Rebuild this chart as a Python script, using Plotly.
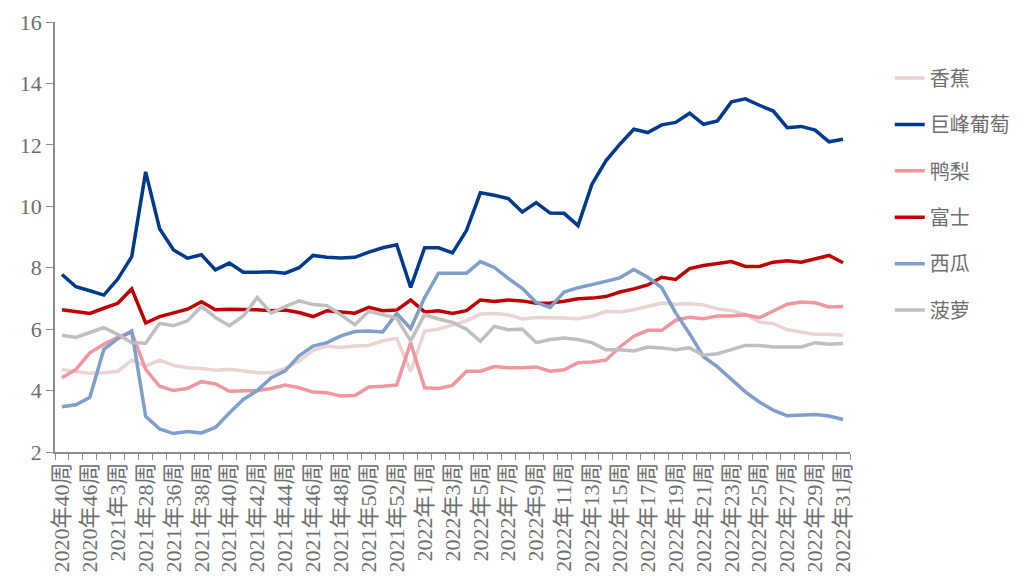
import plotly.graph_objects as go

weeks = (["2020年40周", "2020年43周", "2020年46周", "2020年49周", "2021年3周",
          "2021年15周", "2021年28周", "2021年32周"]
         + [f"2021年{w}周" for w in range(36, 53)]
         + ["2021年53周"]
         + [f"2022年{w}周" for w in range(1, 32)])

banana = [4.69, 4.61, 4.56, 4.58, 4.63, 4.99, 4.80, 4.99, 4.82, 4.74, 4.72, 4.66, 4.69, 4.63,
          4.58, 4.58, 4.72, 4.96, 5.31, 5.45, 5.40, 5.45, 5.47, 5.62, 5.70, 4.63, 5.94, 6.00,
          6.14, 6.27, 6.49, 6.51, 6.47, 6.33, 6.38, 6.38, 6.36, 6.34, 6.42, 6.58, 6.56, 6.63,
          6.75, 6.85, 6.81, 6.83, 6.79, 6.66, 6.61, 6.47, 6.23, 6.18, 5.98, 5.91, 5.83, 5.83, 5.80]
grape = [7.78, 7.38, 7.25, 7.11, 7.63, 8.36, 11.12, 9.27, 8.58, 8.31, 8.42, 7.93, 8.15, 7.85,
         7.85, 7.87, 7.82, 8.00, 8.40, 8.34, 8.32, 8.34, 8.51, 8.65, 8.75, 7.36, 8.65, 8.65,
         8.48, 9.21, 10.44, 10.36, 10.25, 9.81, 10.12, 9.78, 9.77, 9.37, 10.72, 11.48, 12.02,
         12.51, 12.40, 12.65, 12.73, 13.03, 12.67, 12.78, 13.40, 13.50, 13.29, 13.10, 12.56,
         12.60, 12.48, 12.10, 12.18]
pear = [4.42, 4.69, 5.23, 5.51, 5.73, 5.89, 4.69, 4.14, 4.00, 4.07, 4.29, 4.22, 3.98, 3.98,
        4.00, 4.07, 4.18, 4.09, 3.95, 3.93, 3.82, 3.84, 4.12, 4.14, 4.18, 5.56, 4.09, 4.07,
        4.17, 4.63, 4.63, 4.78, 4.74, 4.74, 4.77, 4.63, 4.68, 4.91, 4.93, 4.99, 5.42, 5.77,
        5.96, 5.96, 6.29, 6.39, 6.34, 6.43, 6.43, 6.47, 6.37, 6.59, 6.81, 6.88, 6.86, 6.72, 6.74]
fuji = [6.63, 6.56, 6.51, 6.68, 6.84, 7.31, 6.20, 6.41, 6.54, 6.65, 6.89, 6.63, 6.65, 6.65,
        6.63, 6.60, 6.62, 6.54, 6.41, 6.60, 6.56, 6.52, 6.71, 6.60, 6.62, 6.95, 6.56, 6.60,
        6.51, 6.60, 6.95, 6.90, 6.95, 6.92, 6.84, 6.85, 6.91, 6.99, 7.01, 7.06, 7.21, 7.31,
        7.44, 7.69, 7.62, 7.97, 8.07, 8.13, 8.20, 8.04, 8.04, 8.18, 8.23, 8.18, 8.29, 8.40, 8.16]
watermelon = [3.47, 3.54, 3.78, 5.34, 5.69, 5.94, 3.16, 2.75, 2.60, 2.67, 2.62, 2.80, 3.27, 3.71,
              4.00, 4.42, 4.64, 5.13, 5.45, 5.56, 5.78, 5.92, 5.94, 5.91, 6.51, 6.02, 7.03, 7.82,
              7.82, 7.82, 8.20, 8.01, 7.65, 7.33, 6.87, 6.71, 7.21, 7.35, 7.45, 7.55, 7.67, 7.94,
              7.69, 7.35, 6.53, 5.85, 5.10, 4.77, 4.37, 3.96, 3.63, 3.36, 3.18, 3.20, 3.22, 3.17, 3.06]
pineapple = [5.80, 5.73, 5.89, 6.05, 5.83, 5.56, 5.54, 6.19, 6.11, 6.27, 6.74, 6.38, 6.11, 6.43,
             7.03, 6.52, 6.73, 6.92, 6.80, 6.76, 6.47, 6.14, 6.58, 6.47, 6.36, 5.62, 6.47, 6.33,
             6.22, 6.00, 5.60, 6.09, 5.98, 6.00, 5.56, 5.66, 5.71, 5.66, 5.56, 5.33, 5.33, 5.29,
             5.42, 5.39, 5.33, 5.39, 5.15, 5.20, 5.33, 5.47, 5.47, 5.42, 5.42, 5.42, 5.56, 5.51, 5.53]

series = [
    ("香蕉", banana, "#EBD3D3"),
    ("巨峰葡萄", grape, "#003A8C"),
    ("鸭梨", pear, "#F1959E"),
    ("富士", fuji, "#C00000"),
    ("西瓜", watermelon, "#7F9EC9"),
    ("菠萝", pineapple, "#BFBFBF"),
]

xpos = list(range(len(weeks)))

fig = go.Figure()
for name, vals, color in series:
    fig.add_trace(go.Scatter(
        x=xpos, y=vals, name=name, mode="lines", legendgroup=name,
        line=dict(color=color, width=3.5),
    ))

font_main = "Liberation Serif, Noto Sans CJK SC, serif"
axis_color = "#8C8C8C"
text_color = "#6E6E6E"

fig.update_layout(
    width=1019, height=578,
    margin=dict(l=47, r=177, t=14, b=134),
    paper_bgcolor="white", plot_bgcolor="white",
    font=dict(family=font_main, color=text_color),
    showlegend=True,
    legend=dict(
        x=1.05, y=0.915, xanchor="left", yanchor="top",
        font=dict(size=20, color=text_color, family=font_main),
        tracegroupgap=17.4, traceorder="grouped",
        bgcolor="rgba(0,0,0,0)", borderwidth=0,
    ),
    xaxis=dict(
        range=[-0.5, len(weeks) - 0.5],
        tickmode="array", tickvals=xpos[::2], ticktext=weeks[::2],
        tickangle=-90, ticks="", automargin=False,
        tickfont=dict(size=22, color=text_color, family=font_main),
        showline=True, linecolor=axis_color, linewidth=1.5,
        showgrid=False, zeroline=False,
        minor=dict(tickmode="linear", tick0=-0.5, dtick=1, ticks="outside",
                   ticklen=6, tickcolor=axis_color, tickwidth=1.2, showgrid=False),
    ),
    yaxis=dict(
        range=[2, 16], tickmode="linear", tick0=2, dtick=2, automargin=False,
        ticks="outside", ticklen=7, tickcolor=axis_color, tickwidth=1.2,
        tickfont=dict(size=22, color=text_color, family=font_main),
        showline=True, linecolor=axis_color, linewidth=1.5,
        showgrid=False, zeroline=False,
    ),
)

fig.write_html("out.html")
